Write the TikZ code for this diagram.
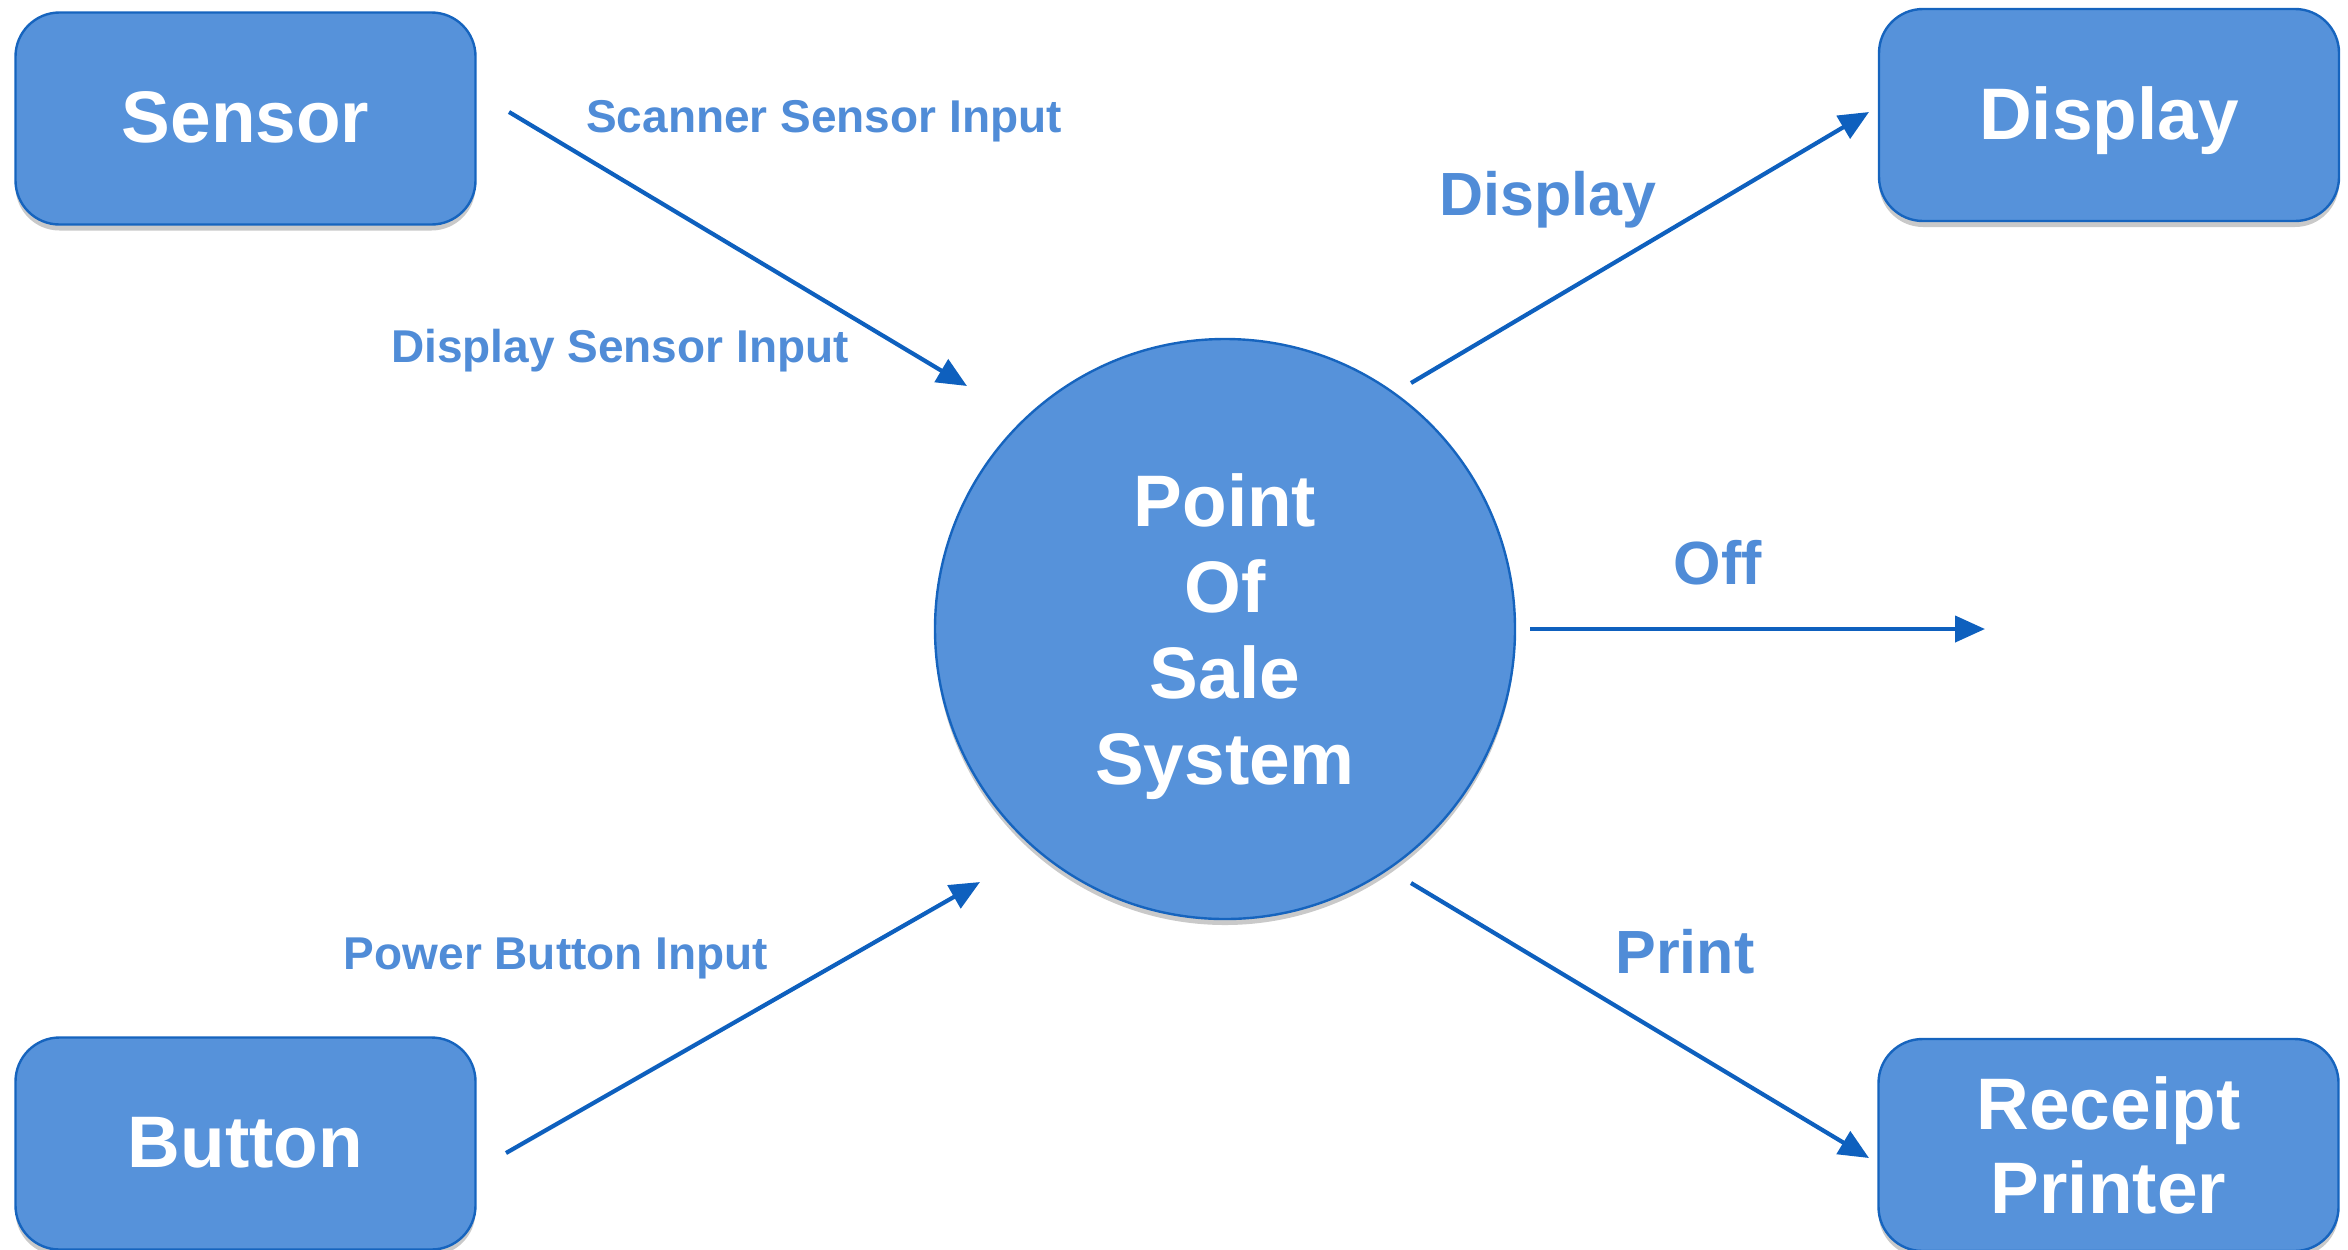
\documentclass[tikz,border=0pt]{standalone}
\usepackage{fontspec}
\setmainfont{Liberation Sans}
\usetikzlibrary{arrows.meta,shadows}
\definecolor{boxfill}{RGB}{86,146,218}
\definecolor{boxline}{RGB}{22,100,190}
\definecolor{arrowc}{RGB}{14,96,190}
\definecolor{labelc}{RGB}{80,140,215}
\begin{document}
\begin{tikzpicture}[x=0.5pt,y=-0.5pt,
  myshadow/.style={drop shadow={shadow xshift=0pt,shadow yshift=-3pt,opacity=0.3,fill=black!70}},
  entity/.style={draw=boxline,line width=1.2pt,fill=boxfill,rounded corners=22pt,
    minimum width=230pt,minimum height=106pt,inner sep=0pt,text=white,
    font=\fontsize{36.5}{42}\selectfont\bfseries,align=center,myshadow},
  oneline/.style={text height=33pt,text depth=9pt},
  process/.style={circle,draw=boxline,line width=1.2pt,fill=boxfill,minimum size=290pt,
    inner sep=0pt,text=white,font=\fontsize{36.5}{43}\selectfont\bfseries,align=center,myshadow},
  flow/.style={draw=arrowc,line width=2.1pt,-{Triangle[length=15pt,width=13pt]}},
  biglabel/.style={text=labelc,font=\fontsize{30.5}{36}\selectfont\bfseries,inner sep=0pt},
  smalllabel/.style={text=labelc,font=\fontsize{23}{28}\selectfont\bfseries,inner sep=0pt}]
\useasboundingbox (0,0) rectangle (2348,1249);

% nodes
\node[entity,oneline] (sensor) at (245.5,118.5) {Sensor};
\node[entity,oneline] (display) at (2109,115) {Display};
\node[entity,oneline] (button) at (245.5,1143.5) {Button};
\node[entity] (printer) at (2108.5,1145) {Receipt\\Printer};
\node[process] (pos) at (1225,629) {\rule{0pt}{34pt}Point\\Of\\Sale\\System};

% connector end points
\coordinate (s1) at (509,112);
\coordinate (s2) at (967,386);
\coordinate (b1) at (506,1153);
\coordinate (b2) at (980,882);
\coordinate (d1) at (1411,383);
\coordinate (d2) at (1869,112);
\coordinate (o1) at (1530,629);
\coordinate (o2) at (1985,629);
\coordinate (p1) at (1411,883);
\coordinate (p2) at (1869,1158);

\draw[flow] (s1) -- (s2);
\draw[flow] (b1) -- (b2);
\draw[flow] (d1) -- (d2);
\draw[flow] (o1) -- (o2);
\draw[flow] (p1) -- (p2);

% labels
\node[smalllabel] (l1) at (824,121.5) {Scanner Sensor Input};
\node[smalllabel] (l2) at (620,350.5) {Display Sensor Input};
\node[smalllabel] (l3) at (556,958.5) {Power Button Input};
\node[biglabel] (l4) at (1548,199.5) {Display};
\node[biglabel] (l5) at (1718,563) {Off};
\node[biglabel] (l6) at (1685,952) {Print};
\end{tikzpicture}
\end{document}
